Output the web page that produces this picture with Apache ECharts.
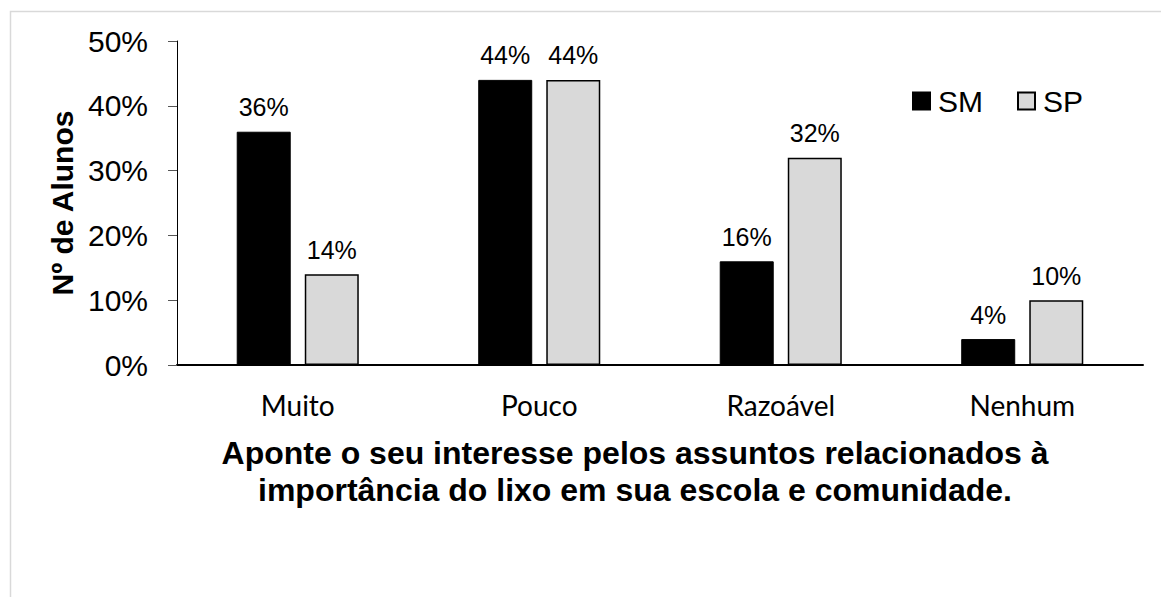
<!DOCTYPE html>
<html>
<head>
<meta charset="utf-8">
<script src="https://cdn.jsdelivr.net/npm/echarts@6.0.0/dist/echarts.min.js"></script>
<style>
  html, body { margin: 0; padding: 0; background: #fff; }
  #chart { width: 1161px; height: 597px; }
</style>
</head>
<body>
<div id="chart"></div>
<script>
const categories = ['Muito', 'Pouco', 'Razoável', 'Nenhum'];
const smValues = [36, 44, 16, 4];
const spValues = [14, 44, 32, 10];

const arial = '"Liberation Sans", Arial, sans-serif';

const myChart = echarts.init(document.getElementById('chart'), null, { renderer: 'svg' });

const barLabel = {
  show: true,
  position: 'top',
  distance: 12,
  formatter: '{c}%',
  color: '#000',
  fontFamily: arial,
  fontSize: 25,
};

const option = {
  backgroundColor: '#fff',
  animation: false,
  graphic: [
    {
      type: 'rect',
      left: 8,
      top: 9,
      shape: { width: 1300, height: 800 },
      style: { fill: 'none', stroke: '#d9d9d9', lineWidth: 1.5 },
      silent: true,
    },
  ],
  title: {
    text: 'Aponte o seu interesse pelos assuntos relacionados à\nimportância do lixo em sua escola e comunidade.',
    left: 635,
    top: 434,
    textAlign: 'center',
    padding: 0,
    textStyle: {
      fontFamily: arial,
      fontWeight: 'bold',
      fontSize: 32,
      lineHeight: 37,
      color: '#000',
    },
  },
  legend: {
    data: ['SM', 'SP'],
    left: 907,
    top: 81,
    icon: 'rect',
    itemWidth: 17,
    itemHeight: 17,
    itemGap: 34,
    textStyle: {
      fontFamily: arial,
      fontSize: 30,
      color: '#000',
      padding: [0, 0, 0, 3],
    },
  },
  grid: {
    left: 177,
    right: 18,
    top: 41,
    bottom: 232,
  },
  xAxis: {
    type: 'category',
    data: categories,
    axisLine: { lineStyle: { color: '#000', width: 2 } },
    axisTick: { length: 9, lineStyle: { color: '#000', width: 1 } },
    axisLabel: {
      margin: 26,
      color: '#000',
      fontFamily: 'Lato, "Open Sans", sans-serif',
      fontSize: 28,
    },
  },
  yAxis: {
    type: 'value',
    min: 0,
    max: 50,
    interval: 10,
    name: 'Nº de Alunos',
    nameLocation: 'middle',
    nameRotate: 90,
    nameGap: 91,
    nameTextStyle: {
      fontFamily: arial,
      fontWeight: 'bold',
      fontSize: 30,
      color: '#000',
    },
    axisLine: { show: true, lineStyle: { color: '#000', width: 1 } },
    axisTick: { show: true, length: 9, lineStyle: { color: '#555', width: 1 } },
    axisLabel: {
      margin: 29,
      formatter: '{value}%',
      color: '#000',
      fontFamily: arial,
      fontSize: 30,
    },
    splitLine: { show: false },
  },
  series: [
    {
      name: 'SM',
      type: 'bar',
      data: smValues,
      barWidth: 54,
      barGap: '26%',
      itemStyle: { color: '#000', borderColor: '#000', borderWidth: 1 },
      label: barLabel,
    },
    {
      name: 'SP',
      type: 'bar',
      data: spValues,
      barWidth: 54,
      itemStyle: { color: '#d9d9d9', borderColor: '#000', borderWidth: 1.5 },
      label: barLabel,
    },
  ],
};

myChart.setOption(option);
</script>
</body>
</html>
